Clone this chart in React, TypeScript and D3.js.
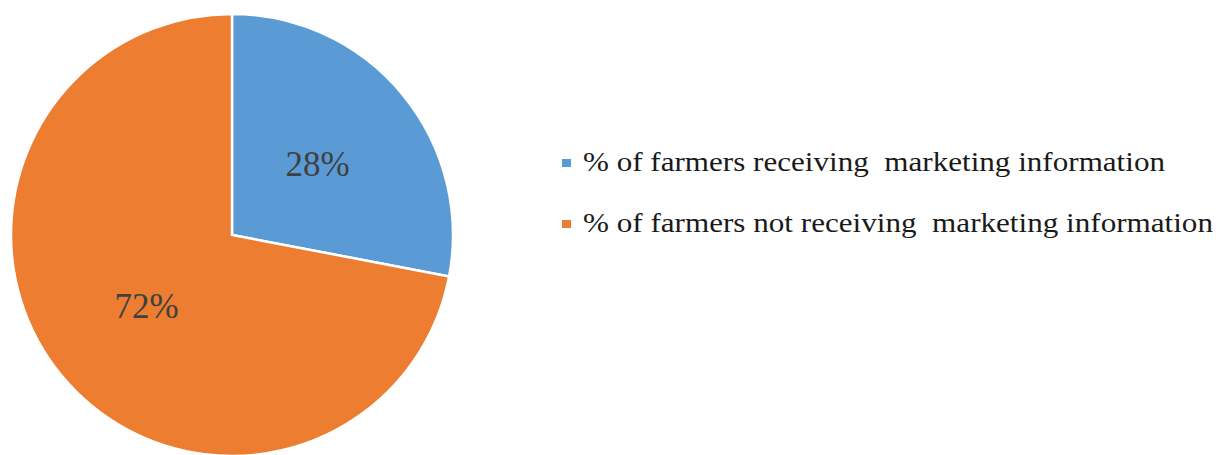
import React from "react";
import * as d3 from "d3";

const categories = [
  "% of farmers receiving  marketing information",
  "% of farmers not receiving  marketing information",
];
const values = [28, 72];
const labels = ["28%", "72%"];
const colors = ["#5B9BD5", "#ED7D31"];

export default function App() {
  const width = 1228;
  const height = 455;
  const cx = 232;
  const cy = 235;
  const r = 221;

  const pie = d3.pie<number>().sort(null).value((d) => d);
  const arcs = pie(values);
  const arcGen = d3.arc<d3.PieArcDatum<number>>().innerRadius(0).outerRadius(r);
  const labelArc = d3.arc<d3.PieArcDatum<number>>().innerRadius(111).outerRadius(111);

  const legendX = 562;
  const legendY0 = 163;
  const legendStep = 61;
  const textLengths = [582, 630];
  const serif = "'Liberation Serif', 'Times New Roman', serif";

  return (
    <svg
      width={width}
      height={height}
      style={{ position: "absolute", left: 0, top: 0, background: "#fff", fontFamily: serif }}
    >
      <g transform={`translate(${cx},${cy})`}>
        {arcs.map((a, i) => (
          <path key={i} d={arcGen(a) || ""} fill={colors[i]} stroke="#fff" strokeWidth={2.5} />
        ))}
        {arcs.map((a, i) => {
          const [x, y] = labelArc.centroid(a);
          return (
            <text
              key={"l" + i}
              x={x}
              y={y + 12}
              textAnchor="middle"
              style={{ fontFamily: serif, fontSize: 35 }}
              fill="#404040"
            >
              {labels[i]}
            </text>
          );
        })}
      </g>
      {categories.map((c, i) => (
        <g key={"g" + i} transform={`translate(${legendX},${legendY0 + i * legendStep})`}>
          <rect x={0} y={-4} width={9} height={8} fill={colors[i]} />
          <text
            x={21}
            y={8}
            fill="#1a1a1a"
            textLength={textLengths[i]}
            lengthAdjust="spacingAndGlyphs"
            style={{ whiteSpace: "pre", fontFamily: serif, fontSize: 28 }}
          >
            {c}
          </text>
        </g>
      ))}
    </svg>
  );
}
